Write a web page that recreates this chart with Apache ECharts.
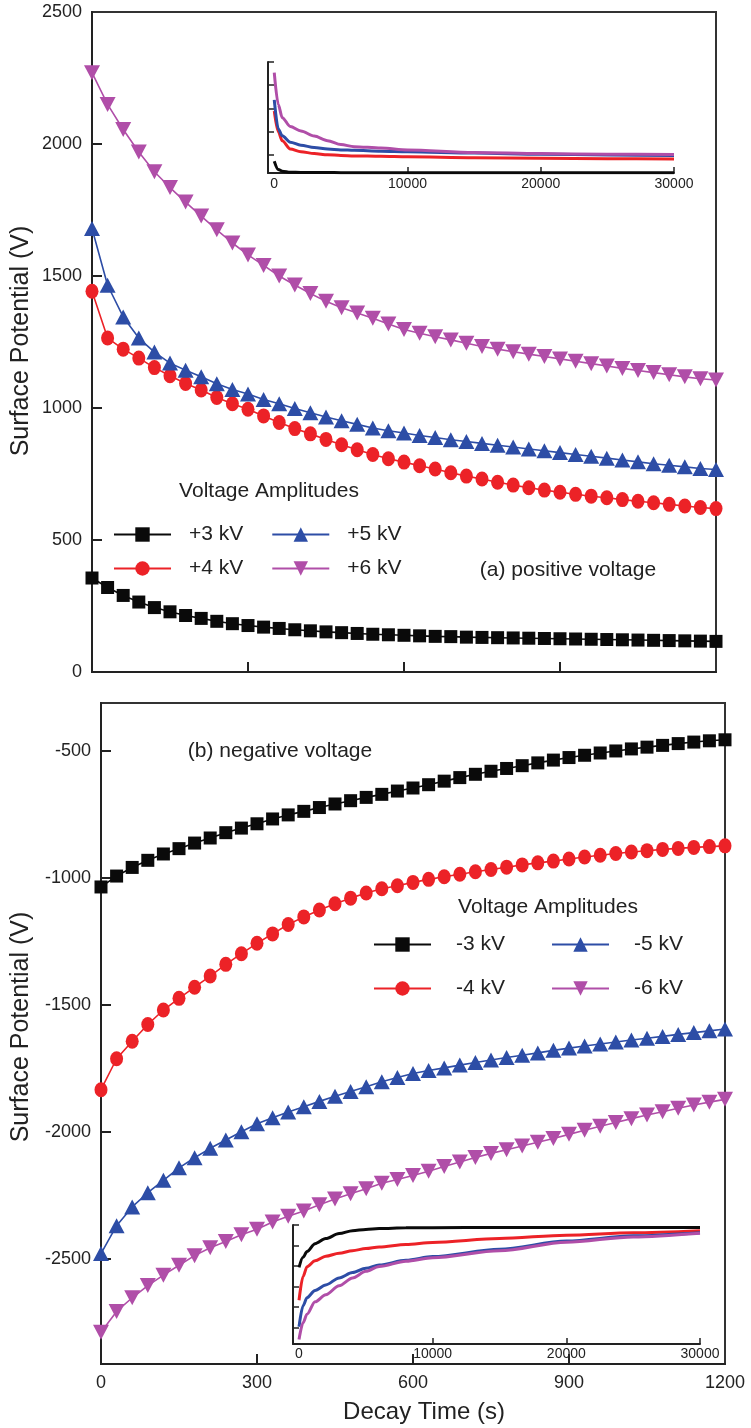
<!DOCTYPE html>
<html>
<head>
<meta charset="utf-8">
<title>Surface potential decay</title>
<script src="https://cdn.jsdelivr.net/npm/echarts@6/dist/echarts.min.js"></script>
<style>
  html, body { margin: 0; padding: 0; background: #ffffff; }
  #chart { width: 751px; height: 1428px; }
</style>
</head>
<body>
<div id="chart"></div>
<script>
// Decay time of the main panels (s)
const decayTime = [0, 30, 60, 90, 120, 150, 180, 210, 240, 270, 300, 330, 360, 390, 420, 450, 480, 510, 540, 570, 600,
  630, 660, 690, 720, 750, 780, 810, 840, 870, 900, 930, 960, 990, 1020, 1050, 1080, 1110, 1140, 1170, 1200];

// (a) positive voltage, surface potential (V)
const posThree = [356, 320, 290, 265, 244, 228, 214, 203, 192, 183, 176, 170, 165, 160, 156, 152, 149, 146, 143, 141, 139,
  137, 135, 134, 132, 131, 130, 129, 128, 127, 126, 125, 124, 123, 122, 121, 120, 119, 118, 117, 116];
const posFour = [1442, 1265, 1223, 1189, 1153, 1122, 1093, 1068, 1040, 1016, 995, 970, 945, 922, 902, 881, 861, 842, 824, 808, 795,
  781, 769, 755, 742, 731, 719, 708, 698, 689, 681, 673, 666, 660, 653, 647, 641, 635, 629, 623, 619];
const posFive = [1680, 1465, 1345, 1265, 1212, 1170, 1143, 1118, 1092, 1070, 1053, 1032, 1016, 998, 982, 966, 952, 938, 924, 914, 905,
  896, 888, 880, 873, 866, 859, 852, 845, 838, 831, 824, 817, 810, 803, 796, 789, 783, 777, 771, 767];
const posSix = [2270, 2150, 2055, 1970, 1895, 1835, 1780, 1727, 1675, 1625, 1580, 1540, 1500, 1466, 1434, 1404, 1380, 1360, 1340, 1318, 1297,
  1283, 1270, 1258, 1245, 1233, 1223, 1213, 1204, 1195, 1186, 1177, 1168, 1159, 1150, 1142, 1134, 1126, 1118, 1111, 1106];

// (b) negative voltage, surface potential (V)
const negThree = [-1035, -992, -958, -930, -905, -884, -862, -842, -821, -803, -786, -767, -751, -737, -722, -708, -695, -682, -670, -657, -645,
  -632, -618, -604, -591, -579, -568, -557, -546, -535, -525, -516, -507, -499, -491, -484, -477, -470, -464, -459, -455];
const negFour = [-1834, -1712, -1643, -1577, -1520, -1474, -1430, -1386, -1340, -1298, -1257, -1220, -1183, -1153, -1126, -1101, -1079, -1059, -1042, -1030, -1017,
  -1005, -995, -985, -975, -966, -957, -948, -940, -933, -925, -917, -910, -903, -897, -892, -887, -883, -879, -876, -873];
const negFive = [-2480, -2370, -2296, -2240, -2191, -2142, -2102, -2065, -2032, -2000, -1968, -1945, -1922, -1901, -1880, -1860, -1841, -1822, -1803, -1786, -1770,
  -1758, -1748, -1737, -1727, -1717, -1707, -1698, -1689, -1679, -1670, -1662, -1654, -1646, -1638, -1631, -1624, -1616, -1609, -1602, -1595];
const negSix = [-2790, -2708, -2654, -2606, -2565, -2526, -2488, -2457, -2432, -2406, -2384, -2355, -2333, -2312, -2287, -2265, -2244, -2224, -2203, -2188, -2172,
  -2155, -2137, -2119, -2101, -2085, -2071, -2056, -2041, -2026, -2010, -1994, -1978, -1963, -1948, -1934, -1921, -1907, -1894, -1883, -1872];

// Long-term decay shown in the insets (s, V)
const longTime = [0, 300, 600, 1200, 2000, 3000, 4000, 5000, 6000, 8000, 10000, 15000, 20000, 25000, 30000];
const posThreeLong = [356, 176, 139, 116, 112, 110, 109, 108, 108, 107, 107, 106, 106, 105, 105];
const posFourLong = [1442, 995, 795, 619, 560, 520, 495, 480, 470, 460, 450, 430, 420, 410, 405];
const posFiveLong = [1680, 1053, 905, 767, 700, 650, 620, 600, 590, 570, 560, 530, 505, 490, 478];
const posSixLong = [2270, 1580, 1297, 1106, 1010, 900, 800, 715, 670, 640, 600, 545, 520, 505, 498];
const negThreeLong = [-1035, -786, -645, -455, -330, -210, -140, -108, -85, -70, -65, -62, -60, -60, -60];
const negFourLong = [-1834, -1257, -1017, -873, -760, -690, -625, -575, -535, -475, -425, -330, -248, -190, -140];
const negFiveLong = [-2480, -1968, -1770, -1595, -1460, -1290, -1160, -1055, -975, -860, -770, -590, -390, -265, -190];
const negSixLong = [-2790, -2384, -2172, -1872, -1700, -1480, -1290, -1130, -1010, -885, -800, -630, -420, -290, -200];

// Tick labels
const mainTimeTicks = [0, 300, 600, 900, 1200];
const posPotentialTicks = [0, 500, 1000, 1500, 2000, 2500];
const negPotentialTicks = [-2500, -2000, -1500, -1000, -500];
const longTimeTicks = [0, 10000, 20000, 30000];

const FONT = '"Liberation Sans", Arial, Helvetica, sans-serif';
const INK = '#222222';
const COLORS = { three: '#0a0a0a', four: '#ec2227', five: '#2d4da6', six: '#b04ea8' };

const pair = (xs, ys) => xs.map((x, i) => [x, ys[i]]);
const plainNumber = (v) => String(v);

function markedLine(name, values, color, symbol, size, rotate, axis) {
  return {
    type: 'line', name,
    xAxisIndex: axis, yAxisIndex: axis,
    data: pair(decayTime, values),
    symbol, symbolSize: size, symbolRotate: rotate,
    showAllSymbol: true,
    lineStyle: { color, width: 1.6 },
    itemStyle: { color },
    emphasis: { disabled: true },
    z: 3
  };
}

function longLine(name, values, color, axis) {
  return {
    type: 'line', name,
    xAxisIndex: axis, yAxisIndex: axis,
    data: pair(longTime, values),
    symbol: 'none',
    smooth: 0.3, smoothMonotone: 'x',
    lineStyle: { color, width: 3 },
    itemStyle: { color },
    emphasis: { disabled: true },
    z: 4
  };
}

const mainAxisLine = { show: true, onZero: false, lineStyle: { color: INK, width: 2 } };
const mainTick = (vals) => ({ show: true, inside: true, length: 10, customValues: vals, lineStyle: { color: INK, width: 2 } });
const insetTick = (vals) => ({ show: true, inside: true, length: 6, customValues: vals, lineStyle: { color: INK, width: 1.5 } });
const tickLabel = (vals, size, margin) => ({
  show: true, customValues: vals, formatter: plainNumber,
  fontFamily: FONT, fontSize: size, color: INK, margin, showMinLabel: true, showMaxLabel: true
});

const legendCommon = {
  orient: 'horizontal', padding: 0,
  itemWidth: 57, itemHeight: 18,
  selectedMode: false,
  textStyle: { fontFamily: FONT, fontSize: 21, color: INK }
};

function legendRow(names, left, top, gap, textPad) {
  return Object.assign({}, legendCommon, {
    data: names, left, top, itemGap: gap,
    textStyle: Object.assign({}, legendCommon.textStyle, { padding: [0, 0, 0, textPad] })
  });
}

function label(text, x, y, size, rotation) {
  return {
    type: 'text', x, y, rotation: rotation || 0, silent: true,
    style: { text, fill: INK, font: size + 'px ' + FONT, textAlign: 'center', textVerticalAlign: 'middle' }
  };
}

const option = {
  animation: false,
  backgroundColor: '#ffffff',
  grid: [
    { left: 92, top: 12, width: 624, height: 660, show: true, borderColor: '#333333', borderWidth: 2, backgroundColor: 'transparent' },
    { left: 101, top: 703, width: 624, height: 661, show: true, borderColor: '#333333', borderWidth: 2, backgroundColor: 'transparent' },
    { left: 268, top: 62, width: 406, height: 111 },
    { left: 293, top: 1225, width: 407, height: 119 }
  ],
  xAxis: [
    { gridIndex: 0, type: 'value', min: 0, max: 1200, axisLine: mainAxisLine,
      axisTick: mainTick([300, 600, 900]), axisLabel: { show: false }, splitLine: { show: false } },
    { gridIndex: 1, type: 'value', min: 0, max: 1200, axisLine: mainAxisLine,
      axisTick: mainTick([300, 600, 900]), axisLabel: tickLabel(mainTimeTicks, 18, 10), splitLine: { show: false } },
    { gridIndex: 2, type: 'value', min: -470, max: 30000, axisLine: mainAxisLine,
      axisTick: insetTick([10000, 20000, 30000]), axisLabel: tickLabel(longTimeTicks, 14, 4), splitLine: { show: false } },
    { gridIndex: 3, type: 'value', min: -450, max: 30000, axisLine: mainAxisLine,
      axisTick: insetTick([10000, 20000, 30000]), axisLabel: tickLabel(longTimeTicks, 14, 3), splitLine: { show: false } }
  ],
  yAxis: [
    { gridIndex: 0, type: 'value', min: 0, max: 2500, axisLine: mainAxisLine,
      axisTick: mainTick([500, 1000, 1500, 2000]), axisLabel: tickLabel(posPotentialTicks, 18, 10), splitLine: { show: false } },
    { gridIndex: 1, type: 'value', min: -2915, max: -310, axisLine: mainAxisLine,
      axisTick: mainTick(negPotentialTicks), axisLabel: tickLabel(negPotentialTicks, 18, 10), splitLine: { show: false } },
    { gridIndex: 2, type: 'value', min: 100, max: 2500, axisLine: mainAxisLine,
      axisTick: insetTick([500, 1000, 1500, 2000, 2500]), axisLabel: { show: false }, splitLine: { show: false } },
    { gridIndex: 3, type: 'value', min: -2900, max: 0, axisLine: mainAxisLine,
      axisTick: insetTick([-2500, -2000, -1500, -1000, -500, 0]), axisLabel: { show: false }, splitLine: { show: false } }
  ],
  legend: [
    legendRow(['+3 kV', '+5 kV'], 113, 524, 28, 13),
    legendRow(['+4 kV', '+6 kV'], 113, 558, 28, 13),
    legendRow(['-3 kV', '-5 kV'], 373, 934, 46, 20),
    legendRow(['-4 kV', '-6 kV'], 373, 978, 46, 20)
  ],
  series: [
    markedLine('+3 kV', posThree, COLORS.three, 'rect', [13, 13], 0, 0),
    markedLine('+4 kV', posFour, COLORS.four, 'circle', [13, 15], 0, 0),
    markedLine('+5 kV', posFive, COLORS.five, 'triangle', [16, 15], 0, 0),
    markedLine('+6 kV', posSix, COLORS.six, 'triangle', [16, 15], 180, 0),
    markedLine('-3 kV', negThree, COLORS.three, 'rect', [13, 13], 0, 1),
    markedLine('-4 kV', negFour, COLORS.four, 'circle', [13, 15], 0, 1),
    markedLine('-5 kV', negFive, COLORS.five, 'triangle', [16, 15], 0, 1),
    markedLine('-6 kV', negSix, COLORS.six, 'triangle', [16, 15], 180, 1),
    longLine('+3 kV long', posThreeLong, COLORS.three, 2),
    longLine('+4 kV long', posFourLong, COLORS.four, 2),
    longLine('+5 kV long', posFiveLong, COLORS.five, 2),
    longLine('+6 kV long', posSixLong, COLORS.six, 2),
    longLine('-3 kV long', negThreeLong, COLORS.three, 3),
    longLine('-4 kV long', negFourLong, COLORS.four, 3),
    longLine('-5 kV long', negFiveLong, COLORS.five, 3),
    longLine('-6 kV long', negSixLong, COLORS.six, 3)
  ],
  graphic: [
    label('Surface Potential (V)', 21, 341, 25, Math.PI / 2),
    label('Surface Potential (V)', 21, 1027, 25, Math.PI / 2),
    label('Decay Time (s)', 424, 1412, 24),
    label('(a) positive voltage', 568, 570, 21),
    label('(b) negative voltage', 280, 751, 21),
    label('Voltage Amplitudes', 269, 491, 21),
    label('Voltage Amplitudes', 548, 907, 21)
  ]
};

const chart = echarts.init(document.getElementById('chart'), null, { renderer: 'canvas', width: 751, height: 1428 });
chart.setOption(option);
</script>
</body>
</html>
